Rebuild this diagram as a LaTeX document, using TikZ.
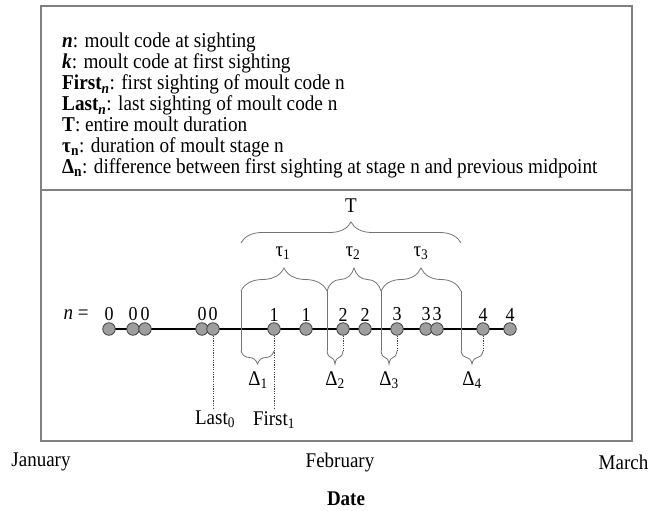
\documentclass[tikz,border=0pt]{standalone}
\usepackage{graphicx}
\usepackage{fontspec}
\setmainfont{Liberation Serif}
\usetikzlibrary{decorations.pathreplacing,backgrounds}
\newcommand{\tall}[1]{\scalebox{1}[1.1]{#1}}
\begin{document}
\begin{tikzpicture}[x=1pt,y=-1pt,
  framegray/.style={draw=black!50,line width=1.1pt},
  dot/.style={circle,draw=black!75,line width=0.8pt,fill=black!38,minimum size=12.5pt,inner sep=0pt,
     label={[font=\fontsize{18}{18}\selectfont,inner sep=1pt]above:\tall{#1}}},
  bracegray/.style={draw=black!55,line width=0.8pt,decorate,decoration={brace,amplitude=#1}},
  bracedown/.style={draw=black!55,line width=0.8pt,decorate,decoration={brace,mirror,amplitude=#1}},
  bound/.style={draw=black!55,line width=0.8pt},
  dotline/.style={draw=black!75,line width=0.6pt,dash pattern=on 1.2pt off 1.2pt},
  lbl/.style={font=\fontsize{19}{19}\selectfont,inner sep=0pt}
]
\useasboundingbox (0,0) rectangle (648,511);
% frame
\draw[framegray] (41,6) rectangle (632,441);
\draw[framegray] (41,190) -- (632,190);
% legend
\node[anchor=north west,inner sep=0pt,font=\fontsize{19.2}{18.5}\selectfont] (legend) at (62,33) {\tall{%
\begin{tabular}{@{}l@{}}
\textbf{\textit{n}}: moult code at sighting\\
\textbf{\textit{k}}: moult code at first sighting\\
\textbf{First\textsubscript{\textit{n}}}: first sighting of moult code n\\
\textbf{Last\textsubscript{\textit{n}}}: last sighting of moult code n\\
\textbf{T}: entire moult duration\\
\textbf{τ\textsubscript{n}}: duration of moult stage n\\
\textbf{Δ\textsubscript{n}}: difference between first sighting at stage n and previous midpoint
\end{tabular}}};
% n =
\node[lbl] (neq) at (76,315) {\tall{\textit{n} =}};
% dots
\node[dot=0] (d1) at (109,329) {};
\node[dot=0] (d2) at (133,329) {};
\node[dot=0] (d3) at (145,329) {};
\node[dot=0] (d4) at (202,329) {};
\node[dot=0] (d5) at (213,329) {};
\node[dot=1] (d6) at (274,329) {};
\node[dot=1] (d7) at (306,329) {};
\node[dot=2] (d8) at (343,329) {};
\node[dot=2] (d9) at (365,329) {};
\node[dot=3] (d10) at (397,329) {};
\node[dot=3] (d11) at (426,329) {};
\node[dot=3] (d12) at (437,329) {};
\node[dot=4] (d13) at (483,329) {};
\node[dot=4] (d14) at (510,329) {};
\begin{pgfonlayer}{background}
\draw[line width=2.6pt] (d1.center) -- (d14.center);
\end{pgfonlayer}
% boundaries
\coordinate (b1t) at (241,291); \coordinate (b1b) at (241,351);
\coordinate (b2t) at (327,291); \coordinate (b2b) at (327,351);
\coordinate (b3t) at (381,291); \coordinate (b3b) at (381,351);
\coordinate (b4t) at (461,291); \coordinate (b4b) at (461,351);
\draw[bound] (b1t) -- (b1b);
\draw[bound] (b2t) -- (b2b);
\draw[bound] (b3t) -- (b3b);
\draw[bound] (b4t) -- (b4b);
% T brace
\coordinate (tl) at (241,243); \coordinate (tr) at (461,243);
\draw[bracegray=21] (tl) -- (tr);
\node[lbl] (T) at (351,206) {\tall{T}};
% tau braces
\draw[bracegray=23] (b1t) -- (b2t);
\draw[bracegray=23] (b2t) -- (b3t);
\draw[bracegray=23] (b3t) -- (b4t);
\node[lbl] (tau1) at (283,253) {\tall{τ\textsubscript{1}}};
\node[lbl] (tau2) at (353,253) {\tall{τ\textsubscript{2}}};
\node[lbl] (tau3) at (421,253) {\tall{τ\textsubscript{3}}};
% dotted lines
\coordinate (f1) at (274,408);
\coordinate (l0) at (213,408);
\coordinate (e2) at (343,351);
\coordinate (e3) at (397,351);
\coordinate (e4) at (483,351);
\draw[dotline] (d5) -- (l0);
\draw[dotline] (d6) -- (f1);
\draw[dotline] (d8) -- (e2);
\draw[dotline] (d10) -- (e3);
\draw[dotline] (d13) -- (e4);
% delta braces
\coordinate (e1) at (274,351);
\draw[bracedown=13] (b1b) -- (e1);
\draw[bracedown=13] (b2b) -- (e2);
\draw[bracedown=13] (b3b) -- (e3);
\draw[bracedown=13] (b4b) -- (e4);
\node[lbl] (D1) at (258,380) {\tall{Δ\textsubscript{1}}};
\node[lbl] (D2) at (335,380) {\tall{Δ\textsubscript{2}}};
\node[lbl] (D3) at (389,380) {\tall{Δ\textsubscript{3}}};
\node[lbl] (D4) at (472,380) {\tall{Δ\textsubscript{4}}};
\node[lbl] (Last) at (215,419) {\tall{Last\textsubscript{0}}};
\node[lbl] (First) at (274,420) {\tall{First\textsubscript{1}}};
% axis labels
\node[lbl] (jan) at (41,462) {\tall{January}};
\node[lbl] (feb) at (340,462) {\tall{February}};
\node[lbl,anchor=east] (mar) at (648.5,462) {\tall{March}};
\node[lbl,font=\fontsize{19}{19}\selectfont\bfseries] (date) at (346,499) {\tall{Date}};
\end{tikzpicture}
\end{document}
